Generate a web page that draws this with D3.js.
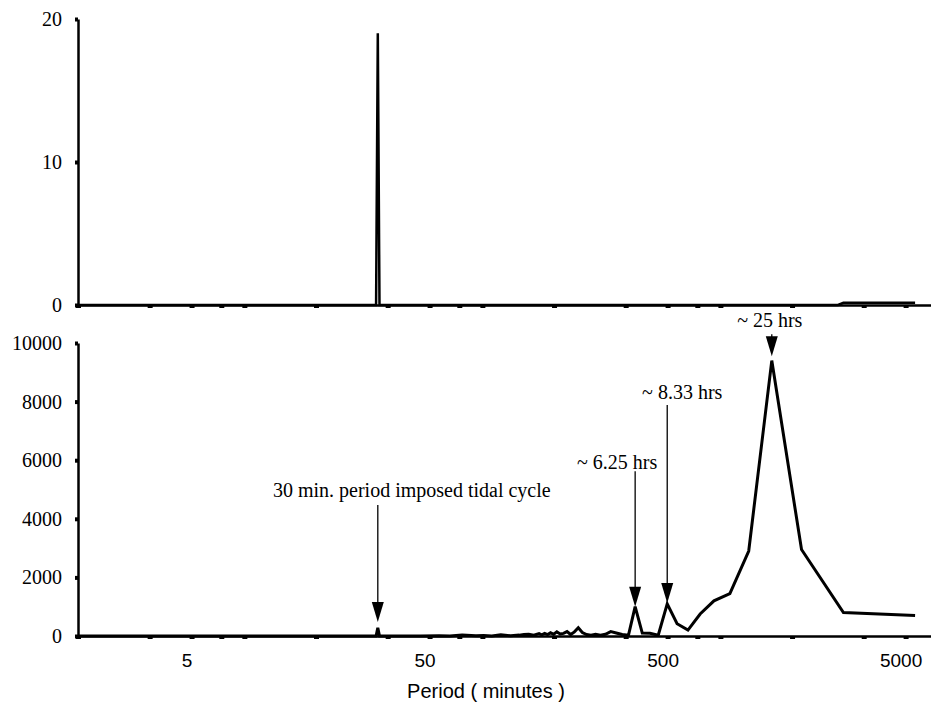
<!DOCTYPE html>
<meta charset="utf-8">
<script src="https://d3js.org/d3.v7.min.js"></script>
<style>
  html, body { margin: 0; padding: 0; background: #fff; }
</style>
<body>
<div id="chart"></div>
<script>

var SERIF = "'Liberation Serif', 'Times New Roman', serif";
var SANS = "'Liberation Sans Narrow', 'Liberation Sans', Arial, sans-serif";

var topPeriod = [1.67, 10, 29.8, 30.3, 30.8, 100, 1826.7, 2600, 2740, 5480];
var topPower  = [0, 0, 0, 19, 0, 0, 0, 0, 0.15, 0.15];

var bottomPeriod = [1.67, 5.5, 11, 21.9, 29.8, 30.3, 30.8, 36.5, 45.7, 54.8, 60.9, 68.5,
  78.3, 84.3, 91.3, 99.6, 109.6, 119.1, 124.5, 130.5, 137, 144.2, 148.1, 152.2, 156.6,
  161.2, 166.1, 171.3, 176.8, 182.7, 189, 195.7, 203, 210.8, 219.2, 228.3, 238.3, 249.1,
  261, 274, 288.4, 304.4, 322.4, 342.5, 365.3, 391.4, 421.5, 456.7, 498.2, 548, 608.9,
  685, 782.9, 913.3, 1096, 1370, 1826.7, 2740, 5480];
var bottomPower = [0, 0, 0, 0, 0, 280, 0, 0, 0, 10, 0, 30,
  10, 20, 0, 40, 10, 30, 50, 60, 30, 80, 40, 90, 50,
  110, 60, 140, 70, 90, 150, 50, 140, 280, 120, 50, 30, 60,
  30, 60, 150, 100, 50, 30, 1000, 100, 90, 30, 1100, 420, 200,
  750, 1200, 1450, 2900, 9400, 2950, 800, 700];

// tick marks at 1/0.6 x {1..5} x 10^k, labels only at 5, 50, 500, 5000
var xTicks = [5/3, 10/3, 5, 20/3, 25/3, 50/3, 100/3, 50, 200/3, 250/3,
  500/3, 1000/3, 500, 2000/3, 2500/3, 5000/3, 10000/3, 5000];
var xLabels = [5, 50, 500, 5000];
var topYTicks = [0, 10, 20];
var bottomYTicks = [0, 2000, 4000, 6000, 8000, 10000];

var annotations = [
  {label: "30 min. period imposed tidal cycle", period: 30.3, tip: 480,  top: 4470, textY: 4740},
  {label: "~ 6.25 hrs",  period: 365.3, tip: 1000, top: 5620, textY: 5700},
  {label: "~ 8.33 hrs",  period: 498.2, tip: 1130, top: 7880, textY: 8100},
  {label: "~ 25 hrs",    period: 1370,  tip: 9550, top: 10300, textY: 10550}
];
// horizontal text centre relative to the arrow (px)
var textShift = [34, -18, 15, -2];

var W = 931, H = 711;
var svg = d3.select("#chart").append("svg")
  .attr("width", W).attr("height", H);

var x = d3.scaleLog().domain([5/3, 6392]).range([78, 931]);
var yTop = d3.scaleLinear().domain([0, 20]).range([305, 19]);
var yBot = d3.scaleLinear().domain([0, 10000]).range([636, 343]);

function xAxis(g, labels) {
  g.call(d3.axisBottom(x)
      .tickValues(xTicks)
      .tickSizeInner(3).tickSizeOuter(0).tickPadding(15)
      .tickFormat(function(d) {
        var hit = xLabels.filter(function(l) { return Math.abs(l - d) < 1e-6; });
        return labels && hit.length ? hit[0] : "";
      }));
  g.select(".domain").attr("stroke-width", 2.5);
  g.selectAll(".tick line").attr("stroke-width", 5);
  g.selectAll(".tick text")
    .attr("dx", -5)
    .style("font-family", SANS).style("font-size", "19px").attr("fill", "#000");
}

function yAxis(g, scale, ticks) {
  g.call(d3.axisLeft(scale).tickValues(ticks)
      .tickSizeInner(3).tickSizeOuter(0).tickPadding(13)
      .tickFormat(d3.format("d")));
  g.select(".domain").attr("stroke-width", 2.5);
  g.selectAll(".tick line").attr("stroke-width", 4);
  g.selectAll(".tick text")
    .style("font-family", SERIF).style("font-size", "20px").attr("fill", "#000");
}

// top panel
svg.append("g").attr("transform", "translate(0,305)").call(xAxis, false);
svg.append("g").attr("transform", "translate(78,0)").call(yAxis, yTop, topYTicks);

var topData = topPeriod.map(function(p, i) { return [p, topPower[i]]; });
svg.append("path")
  .datum(topData)
  .attr("fill", "none")
  .attr("stroke", "#000")
  .attr("stroke-width", 2.5)
  .attr("d", d3.line().x(function(d) { return x(d[0]); }).y(function(d) { return yTop(d[1]); }));

// bottom panel
svg.append("g").attr("transform", "translate(0,636)").call(xAxis, true);
svg.append("g").attr("transform", "translate(78,0)").call(yAxis, yBot, bottomYTicks);

var botData = bottomPeriod.map(function(p, i) { return [p, bottomPower[i]]; });
svg.append("path")
  .datum(botData)
  .attr("fill", "none")
  .attr("stroke", "#000")
  .attr("stroke-width", 3)
  .attr("d", d3.line().x(function(d) { return x(d[0]); }).y(function(d) { return yBot(d[1]); }));

// arrows and labels
annotations.forEach(function(a, i) {
  var ax = x(a.period), tipY = yBot(a.tip), topY = yBot(a.top);
  var headLen = 20, headHalf = 6;
  svg.append("line")
    .attr("x1", ax).attr("x2", ax)
    .attr("y1", topY).attr("y2", tipY - headLen + 2)
    .attr("stroke", "#000").attr("stroke-width", 1.3);
  svg.append("path")
    .attr("d", "M" + (ax - headHalf) + "," + (tipY - headLen) +
               "L" + (ax + headHalf) + "," + (tipY - headLen) +
               "L" + ax + "," + tipY + "Z")
    .attr("fill", "#000");
  svg.append("text")
    .attr("x", ax + textShift[i])
    .attr("y", yBot(a.textY))
    .attr("text-anchor", "middle")
    .style("font-family", SERIF)
    .style("font-size", "20px")
    .text(a.label);
});

// x axis title
svg.append("text")
  .attr("x", 486)
  .attr("y", 698)
  .attr("text-anchor", "middle")
  .style("font-family", SANS)
  .style("font-size", "20px")
  .text("Period ( minutes )");

</script>
</body>
